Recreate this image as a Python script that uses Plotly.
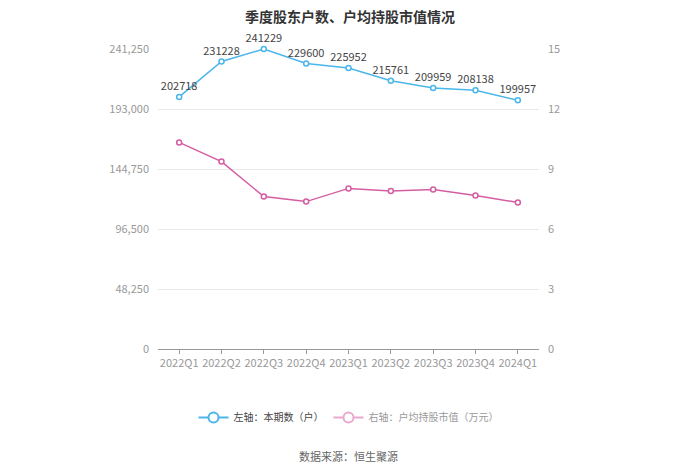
import plotly.graph_objects as go

quarters = ["2022Q1", "2022Q2", "2022Q3", "2022Q4", "2023Q1", "2023Q2", "2023Q3", "2023Q4", "2024Q1"]
holders = [202718, 231228, 241229, 229600, 225952, 215761, 209959, 208138, 199957]
avg_value = [10.33, 9.37, 7.62, 7.37, 8.03, 7.90, 7.97, 7.67, 7.33]
left_ticks = [0, 48250, 96500, 144750, 193000, 241250]
right_ticks = [0, 3, 6, 9, 12, 15]

FONT = "Noto Sans CJK SC, Microsoft YaHei, sans-serif"
BLUE = "#4AB6EA"
PINK = "#D45DA3"
PINK_LIGHT = "#EBA8CF"

fig = go.Figure()
fig.add_trace(go.Scatter(
    x=quarters, y=holders, name="left",
    mode="lines+markers+text", showlegend=False,
    line=dict(color=BLUE, width=1.5),
    marker=dict(symbol="circle", size=5, color="white", line=dict(color=BLUE, width=1.5)),
    text=[str(v) for v in holders], textposition="top center",
    textfont=dict(size=11, color="#444444", family=FONT),
    yaxis="y", cliponaxis=False,
))
fig.add_trace(go.Scatter(
    x=quarters, y=avg_value, name="right",
    mode="lines+markers", showlegend=False,
    line=dict(color=PINK, width=1.5),
    marker=dict(symbol="circle", size=5, color="white", line=dict(color=PINK, width=1.5)),
    yaxis="y2", cliponaxis=False,
))
# legend entries
fig.add_trace(go.Scatter(
    x=[None], y=[None], name="左轴：本期数（户）", mode="lines+markers",
    line=dict(color=BLUE, width=2),
    marker=dict(symbol="circle", size=10, color="white", line=dict(color=BLUE, width=2)),
))
fig.add_trace(go.Scatter(
    x=[None], y=[None], name="<span style='color:#9a9a9a'>右轴：户均持股市值（万元）</span>",
    mode="lines+markers", yaxis="y2",
    line=dict(color=PINK_LIGHT, width=2),
    marker=dict(symbol="circle", size=10, color="white", line=dict(color=PINK_LIGHT, width=2)),
))

fig.update_layout(
    width=700, height=473,
    margin=dict(l=158, r=161, t=49, b=124),
    paper_bgcolor="white", plot_bgcolor="white",
    font=dict(family=FONT, size=11, color="#999999"),
    title=dict(text="<b>季度股东户数、户均持股市值情况</b>", x=0.5, xanchor="center",
               y=0.975, yanchor="top", font=dict(size=14, color="#333333", family=FONT)),
    showlegend=True,
    legend=dict(orientation="h", x=0.5, xanchor="center", y=-0.18, yanchor="top",
                font=dict(size=10, color="#444444", family=FONT), itemwidth=30),
    xaxis=dict(type="category", range=[-0.5, 8.5], showgrid=False,
               showline=True, linecolor="#999999", linewidth=1,
               ticks="outside", ticklen=4, tickcolor="#999999",
               tickfont=dict(size=11, color="#999999")),
    yaxis=dict(range=[0, 241250], tickvals=left_ticks, tickformat=",",
               showgrid=True, gridcolor="#E8E8E8", zeroline=False,
               showline=False, ticks="", ticklabelstandoff=8,
               tickfont=dict(size=11, color="#999999")),
    yaxis2=dict(range=[0, 15], tickvals=right_ticks, overlaying="y", side="right",
                showgrid=False, zeroline=False, showline=False, ticks="",
                ticklabelstandoff=8, tickfont=dict(size=11, color="#999999")),
    annotations=[dict(text="数据来源：恒生聚源", x=0.5, xref="paper", xanchor="center",
                      y=-0.322, yref="paper", yanchor="top", showarrow=False,
                      font=dict(size=11, color="#666666", family=FONT))],
)

fig.write_html("out.html")
